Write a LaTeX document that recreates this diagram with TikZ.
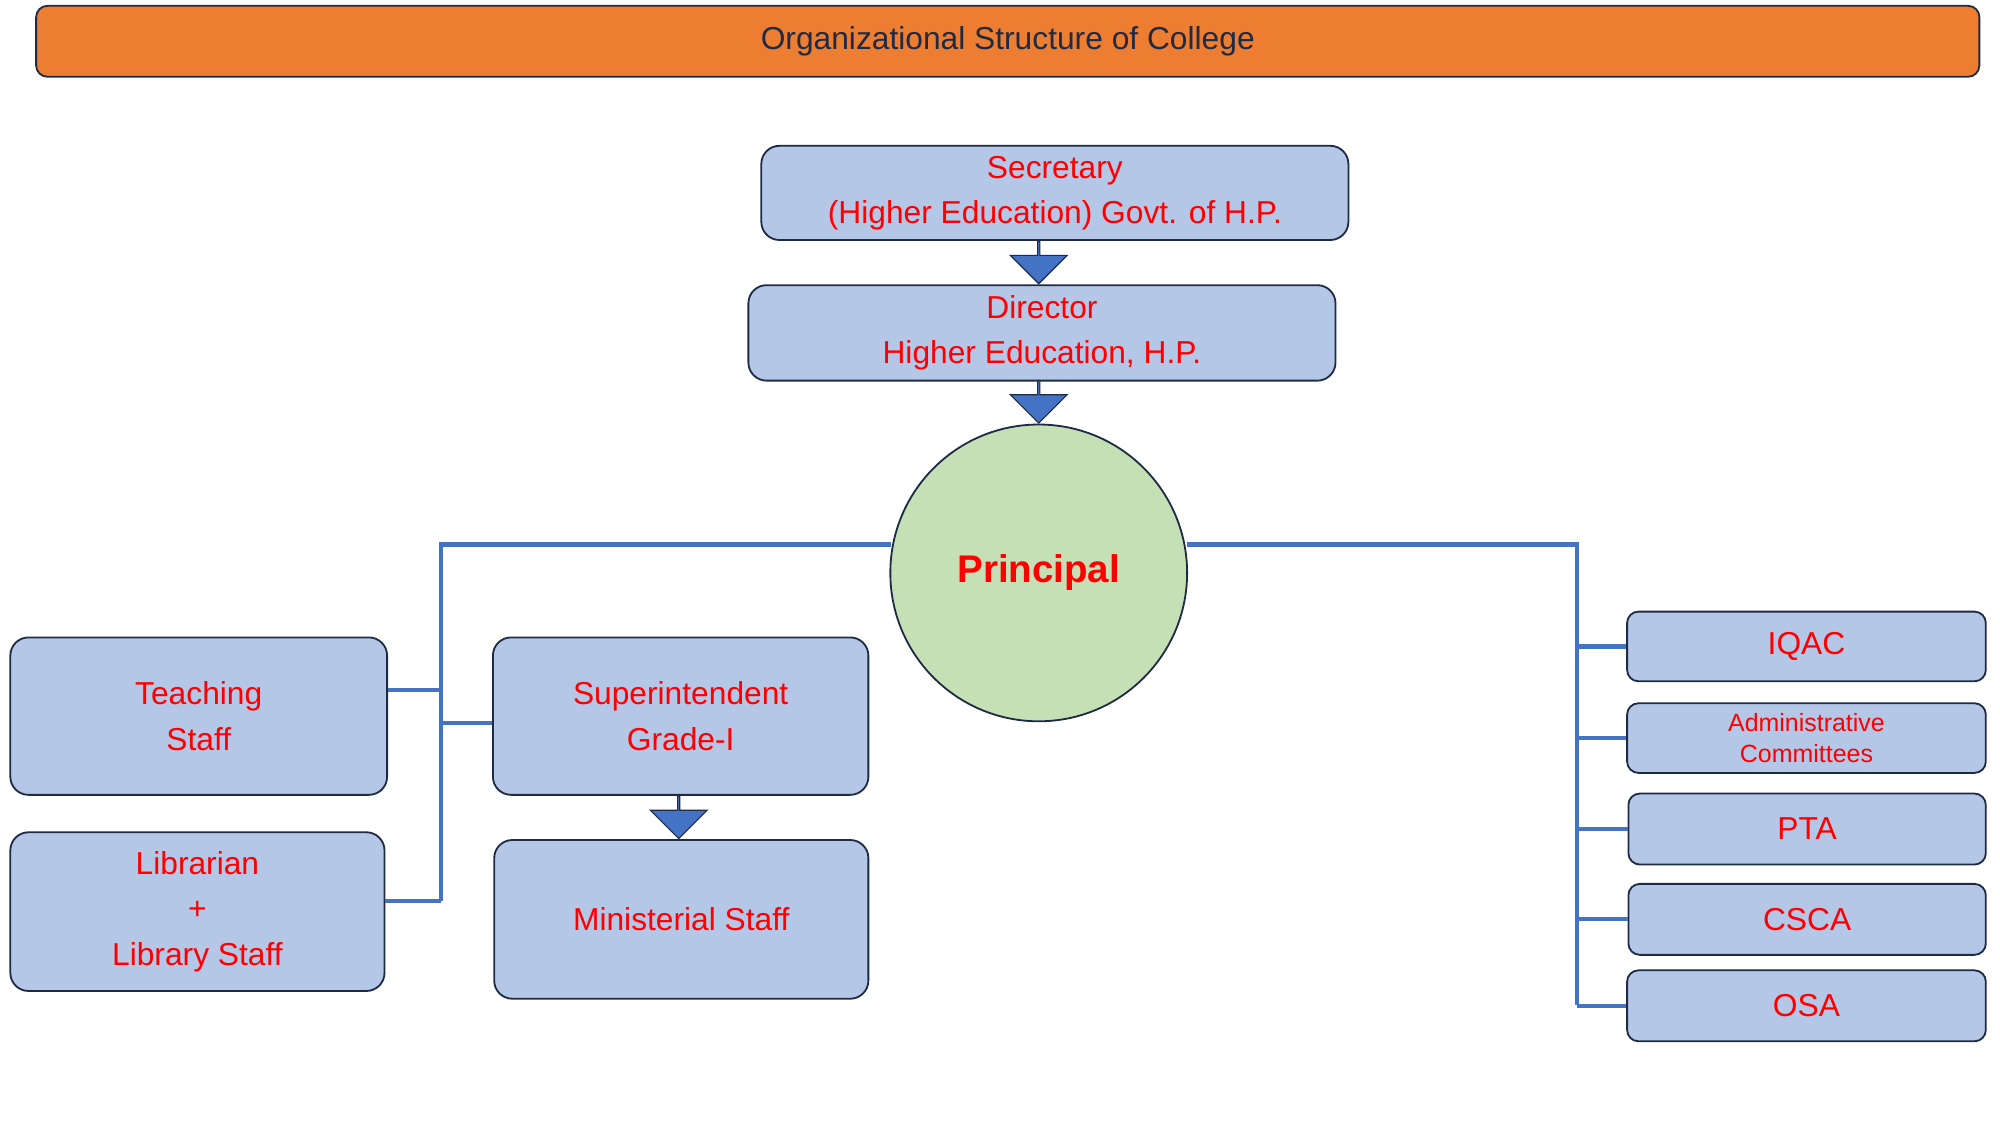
\documentclass[tikz,border=0pt]{standalone}
\usepackage{fontspec}
\setmainfont{Liberation Sans}
\usetikzlibrary{shapes.arrows,calc}
\definecolor{boxfill}{HTML}{B4C7E7}
\definecolor{navy}{HTML}{1F2A44}
\definecolor{lineblue}{HTML}{4472C4}
\definecolor{orangebar}{HTML}{ED7D31}
\definecolor{green}{HTML}{C5E0B4}
\definecolor{txtred}{HTML}{FF0000}
\tikzset{
 px/.style={x=0.02cm,y=-0.02cm},
 box/.style={draw=navy,line width=0.8pt,fill=boxfill,rounded corners=8pt,text=txtred,align=center,font=\fontsize{14}{20}\selectfont,inner sep=0pt},
 conn/.style={draw=lineblue,line width=1.8pt},
 barrow/.style={single arrow,shape border rotate=270,fill=lineblue,draw=navy,line width=0.5pt,minimum height=0.66cm,minimum width=0.88cm,single arrow head extend=0.22cm,inner sep=0pt}
}
\newcommand{\bx}[6]{\node[box,minimum width={(#4-#2)*0.02cm},minimum height={(#5-#3)*0.02cm},#6] (#1) at ({(#2+#4)/2},{(#3+#5)/2})}
\begin{document}
\begin{tikzpicture}[px]
\useasboundingbox (0,0) rectangle (1550,872);
\node[draw=navy,line width=0.8pt,fill=orangebar,rounded corners=5pt,minimum width=1506*0.02cm,minimum height=55*0.02cm,text=navy,font=\fontsize{14}{16}\selectfont] (title) at (781,32) {Organizational Structure of College};
\bx{sec}{590}{113}{1045}{186}{}{Secretary\\(Higher Education) Govt. of H.P.};
\bx{dir}{580}{221}{1035}{295}{}{Director\\Higher Education, H.P.};
\node[circle,draw=navy,line width=0.8pt,fill=green,minimum size=230*0.02cm,text=txtred,font=\fontsize{17}{20}\selectfont\bfseries] (pri) at (805,444) {Principal};
\node[barrow] (a1) at (805,203) {};
\node[barrow] (a2) at (805,311) {};
\bx{teach}{8}{494}{300}{616}{}{Teaching\\Staff};
\bx{sup}{382}{494}{673}{616}{}{Superintendent\\Grade-I};
\bx{lib}{8}{645}{298}{768}{}{Librarian\\+\\Library Staff};
\bx{min}{383}{651}{673}{774}{}{Ministerial Staff};
\node[barrow] (a3) at (526,633) {};
\bx{iqac}{1261}{474}{1539}{528}{rounded corners=5pt}{IQAC};
\bx{adm}{1261}{545}{1539}{599}{rounded corners=5pt,font=\fontsize{11}{14}\selectfont}{Administrative\\Committees};
\bx{pta}{1262}{615}{1539}{670}{rounded corners=5pt}{PTA};
\bx{csca}{1262}{685}{1539}{740}{rounded corners=5pt}{CSCA};
\bx{osa}{1261}{752}{1539}{807}{rounded corners=5pt}{OSA};
\coordinate (lt) at (342,422);
\coordinate (rt) at (1222,422);
\draw[conn] (pri.west |- lt) ++(1,0) -- (lt) -- (342,698);
\draw[conn] (teach.east |- 0,535) -- (342,535);
\draw[conn] (342,560) -- (sup.west |- 0,560);
\draw[conn] (lib.east |- 0,698) -- (342,698);
\draw[conn] (pri.east |- rt) ++(-1,0) -- (rt) -- (1222,779);
\foreach \n in {iqac,adm,pta,csca,osa}{\draw[conn] (1222,0 |- \n.west) -- (\n.west);}
\end{tikzpicture}
\end{document}
